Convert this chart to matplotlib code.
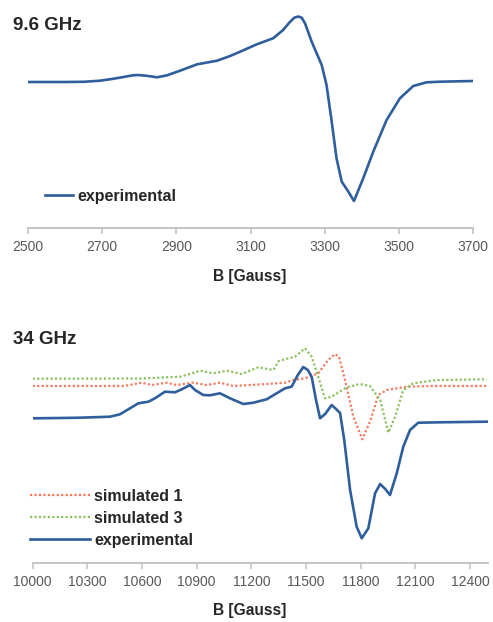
import matplotlib
matplotlib.use("Agg")
import matplotlib.pyplot as plt
import numpy as np

plt.rcParams['font.family'] = ['Liberation Sans', 'DejaVu Sans']

# 9.6 GHz spectrum (field in Gauss, signal in arbitrary units)
x_band_B = [2500, 2600, 2650, 2694, 2721, 2750, 2783, 2797, 2820, 2848, 2875, 2910,
            2956, 3010, 3045, 3072, 3117, 3161, 3188, 3205, 3218, 3229, 3238, 3247,
            3265, 3292, 3305, 3319, 3332, 3346, 3364, 3379, 3404, 3431, 3467, 3503,
            3539, 3575, 3611, 3700]
x_band_exp = [0, 0, 0.2, 1.3, 2.7, 4.5, 6.7, 7, 6.2, 4.7, 6.7, 11.3,
              17.7, 21.3, 26, 30.3, 37.7, 43.7, 52, 59.5, 64.3, 65.5, 64.3, 58.7,
              40.3, 17, -3, -39.7, -76.3, -99.7, -109.7, -119, -96.3, -69.7, -38, -16.3,
              -4, -0.3, 0.3, 1]

# 34 GHz spectra
q_band_B = [10000, 10150, 10260, 10424, 10479, 10534, 10580, 10635, 10671, 10726,
            10781, 10818, 10863, 10891, 10936, 10973, 11028, 11083, 11156, 11211,
            11284, 11339, 11385, 11421, 11455, 11485, 11510, 11531, 11555, 11577,
            11605, 11641, 11665, 11687, 11710, 11742, 11778, 11806, 11842, 11879,
            11907, 11935, 11961, 11998, 12034, 12071, 12116, 12236, 12492]
q_band_exp = [-0.3, 0, 0.3, 1.3, 3.7, 9.7, 14.7, 16.3, 19.7, 26.3,
              25.7, 28.7, 33, 28, 23, 22.7, 24.7, 19.7, 14, 15.3,
              18.7, 24.7, 29.7, 31.3, 43, 51, 48, 41.3, 18, -0.3,
              4, 13, 9, 5, -22, -72, -108.7, -120.3, -110.3, -75.3,
              -66, -71, -77, -55.3, -28.7, -12, -4.7, -4.3, -3.7]

sim1_B = [10000, 10500, 10598, 10653, 10735, 10790, 10881, 10955, 11028, 11101,
          11284, 11385, 11430, 11494, 11567, 11622, 11659, 11681, 11714, 11760,
          11809, 11851, 11897, 11943, 12053, 12200, 12492]
sim1 = [32, 32, 35.3, 33, 35.3, 33, 35.3, 33, 35.3, 32,
        34, 35.3, 38, 39.7, 44.7, 58, 64, 61.3, 38, 1.3,
        -21.3, -3.7, 23, 28, 31.3, 32, 32]

sim3_B = [10000, 10600, 10808, 10863, 10918, 10991, 11065, 11147, 11238, 11321,
          11350, 11385, 11440, 11494, 11531, 11567, 11604, 11641, 11723, 11796,
          11851, 11907, 11952, 11989, 12034, 12089, 12218, 12492]
sim3 = [39.3, 39.5, 41.3, 44, 47.3, 44.7, 47.3, 44, 50.7, 48,
        57, 58.7, 61.3, 69.7, 61.3, 41.3, 19.7, 21.3, 30.7, 34,
        32, 18, -14.7, 1.3, 28, 34.7, 38, 38.7]

x_ticks = np.arange(2500, 3701, 200)
q_ticks = np.arange(10000, 12401, 300)

BLUE = '#2E5E9C'
RED = '#F47B5E'
GREEN = '#8CC160'
AXIS_GRAY = '#BFBFBF'
TICK_GRAY = '#595959'
TEXT_DARK = '#262626'

W, H = 493, 622
fig = plt.figure(figsize=(W / 100, H / 100), dpi=100)


def style_axis(ax, ticks):
    for s in ['top', 'right', 'left']:
        ax.spines[s].set_visible(False)
    ax.spines['bottom'].set_color(AXIS_GRAY)
    ax.spines['bottom'].set_linewidth(1.3)
    ax.set_yticks([])
    ax.set_xticks(ticks)
    ax.tick_params(axis='x', direction='out', length=4.5, width=1.1, color=AXIS_GRAY,
                   labelsize=10, labelcolor=TICK_GRAY, pad=4)


# top panel: axis line at y=228 px
ax1 = fig.add_axes([28 / W, 1 - 228 / H, 445 / W, 220 / H])
ax1.plot(x_band_B, x_band_exp, color=BLUE, lw=1.9, solid_joinstyle='round',
         label='experimental')
ax1.set_xlim(2500, 3700)
ax1.set_ylim(-146, 74)
style_axis(ax1, x_ticks)
ax1.legend(loc='center left', bbox_to_anchor=(45 / W, 1 - 196 / H),
           bbox_transform=fig.transFigure, frameon=False, borderpad=0,
           borderaxespad=0, handlelength=1.75, handletextpad=0.3,
           prop={'weight': 'bold', 'size': 11.5}, labelcolor=TEXT_DARK)

fig.text(13 / W, 1 - 26 / H, '9.6 GHz', fontsize=13.5, fontweight='bold',
         color=TEXT_DARK, va='center', ha='left')
fig.text(250 / W, 1 - 276 / H, 'B [Gauss]', fontsize=11.2, fontweight='bold',
         color=TEXT_DARK, va='center', ha='center')

# bottom panel: axis line at y=563 px
ax2 = fig.add_axes([32.7 / W, 1 - 563 / H, 455.5 / W, 218 / H])
l1, = ax2.plot(sim1_B, sim1, color=RED, lw=1.6, ls=(0, (1, 1)), label='simulated 1')
l3, = ax2.plot(sim3_B, sim3, color=GREEN, lw=1.6, ls=(0, (1, 1)), label='simulated 3')
le, = ax2.plot(q_band_B, q_band_exp, color=BLUE, lw=1.9, solid_joinstyle='round',
               label='experimental')
ax2.set_xlim(10000, 12500)
ax2.set_ylim(-145, 73)
style_axis(ax2, q_ticks)
ax2.legend(handles=[l1, l3, le], loc='center left',
           bbox_to_anchor=(30 / W, 1 - 518.3 / H), bbox_transform=fig.transFigure,
           frameon=False, borderpad=0, borderaxespad=0, handlelength=3.75,
           handletextpad=0.25, labelspacing=0.45,
           prop={'weight': 'bold', 'size': 11.5}, labelcolor=TEXT_DARK)

fig.text(13 / W, 1 - 340 / H, '34 GHz', fontsize=13.5, fontweight='bold',
         color=TEXT_DARK, va='center', ha='left')
fig.text(250 / W, 1 - 610 / H, 'B [Gauss]', fontsize=11.2, fontweight='bold',
         color=TEXT_DARK, va='center', ha='center')

plt.savefig('out.png', dpi=100)
